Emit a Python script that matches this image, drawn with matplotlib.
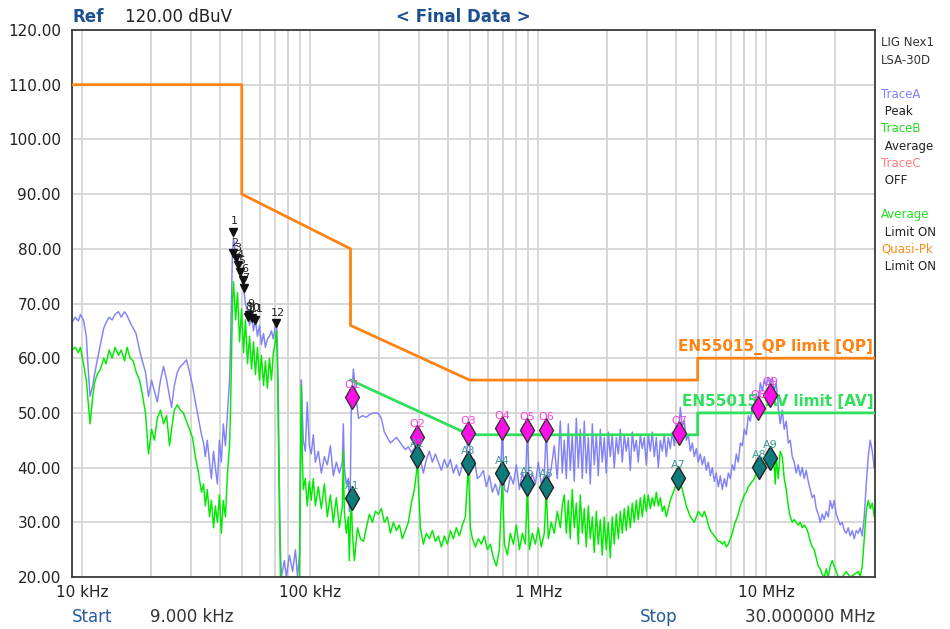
import matplotlib
matplotlib.use('Agg')
import matplotlib.pyplot as plt
from matplotlib.ticker import FixedLocator, NullFormatter

# --- data (frequency in kHz, level in dBuV) ---
peak_trace = [
    (9.0, 66.5), (9.3, 67.5), (9.6, 66.8), (9.8, 68), (10.1, 67), (10.4, 64), (10.6, 58), (10.8, 53),
    (11.1, 55), (11.3, 57), (11.6, 59.5), (12.0, 62.5), (12.4, 65.5), (12.7, 66.5), (13.1, 67.5),
    (13.5, 67), (13.9, 68), (14.4, 68.5), (14.8, 67.5), (15.3, 68.5), (15.7, 67.8), (16.2, 66.5),
    (16.7, 65.5), (17.2, 64.5), (17.8, 61.5), (18.3, 59.5), (18.9, 57.5), (19.5, 53), (20.1, 56),
    (20.7, 54), (21.3, 52), (22.0, 56), (22.7, 58.5), (23.4, 56), (24.1, 53), (24.6, 51), (25.3, 55),
    (26.1, 57.5), (26.9, 58.5), (27.7, 59), (28.6, 59.7), (29.5, 57.5), (30.4, 55), (31.3, 52),
    (32.3, 49), (33.3, 46), (34.0, 44.5), (34.6, 42), (35.3, 45), (36.1, 41), (36.8, 38), (37.6, 43),
    (38.3, 40), (39.1, 37), (39.9, 45), (40.7, 41), (41.5, 48), (42.4, 44), (43.3, 50), (44.2, 56),
    (44.6, 62), (45.1, 72), (45.5, 79), (46.0, 82), (47.0, 79), (47.9, 78.5), (48.9, 76), (49.9, 75),
    (50.9, 73), (51.9, 70), (53.0, 68.5), (54.1, 66), (55.2, 68), (56.3, 65), (57.4, 67), (58.6, 64),
    (59.8, 66), (61.0, 62.5), (62.3, 64.5), (63.5, 62), (64.8, 63.5), (66.1, 64), (67.5, 65),
    (68.8, 63.5), (70.2, 66), (71.0, 66.5), (71.7, 62), (72.4, 52), (73.1, 38), (73.9, 25), (74.6, 20),
    (76.9, 23), (78.5, 20), (80.9, 24), (83.6, 21), (86.0, 25), (87.8, 20), (89.6, 24), (90.4, 40),
    (91.3, 56), (92.2, 50), (93.1, 45), (95.0, 43), (96.9, 52), (98.9, 44), (100.9, 42.5), (103, 46),
    (105.2, 41), (108.4, 43), (111.7, 39), (115.2, 42), (118.7, 40.5), (122.4, 44), (126.1, 38.5),
    (130, 41), (134, 39), (138.1, 41), (139.5, 48), (140.9, 40), (143.8, 37), (146.7, 38), (148.2, 32),
    (149.8, 37), (151.3, 52), (154.4, 58), (157.6, 54), (162.5, 49), (169.1, 49.5), (176, 49.2),
    (183.3, 49.8), (190.8, 50), (198.7, 49.9), (204.8, 49), (211.1, 46.5), (217.6, 45.5), (224.4, 44.5),
    (231.3, 45), (238.4, 45.5), (245.8, 44.8), (253.3, 44), (261.1, 43.3), (269.2, 43.8), (277.4, 42.8),
    (286, 43.5), (294.8, 46), (303.8, 41.5), (313.2, 39), (322.8, 41.5), (332.7, 43), (343, 41),
    (353.5, 42.5), (364.4, 41), (375.6, 39.5), (387.2, 41.5), (399.1, 40), (411.3, 41.5), (424, 39),
    (437, 40.5), (450.5, 38.5), (464.3, 40.5), (478.6, 39.5), (493.4, 46.5), (508.6, 40), (524.2, 41.5),
    (540.3, 38), (557, 38.5), (574.1, 39.5), (591.8, 36.5), (610, 38.5), (628.8, 35.5), (648.1, 37),
    (668.1, 35), (681.7, 37), (695.6, 47.5), (709.8, 36), (731.6, 35.5), (754.2, 38.5), (777.4, 37),
    (801.3, 40.5), (826, 36), (851.4, 39), (877.6, 37), (895.4, 47), (913.6, 36.5), (941.8, 39),
    (970.8, 37), (1000, 41), (1031, 37), (1062, 38.5), (1084, 47), (1106, 37.5), (1140, 40), (1175, 44),
    (1211, 38), (1249, 48.5), (1274, 39), (1300, 45), (1327, 38), (1354, 48), (1381, 39.5), (1409, 46),
    (1438, 37.5), (1468, 49), (1498, 40), (1528, 47), (1560, 38), (1591, 48.5), (1624, 39), (1657, 45.5),
    (1691, 37), (1726, 48), (1760, 40.5), (1797, 46), (1833, 38.5), (1871, 47), (1908, 41), (1947, 45.5),
    (1987, 39), (2028, 46.5), (2069, 42), (2111, 46), (2154, 40), (2199, 45.5), (2244, 42.5), (2289, 47),
    (2336, 41), (2384, 46), (2432, 43), (2482, 45.5), (2533, 39.5), (2584, 46.5), (2637, 43), (2691, 45),
    (2746, 41), (2802, 46), (2860, 43.5), (2918, 45.5), (2977, 40.5), (3038, 46), (3100, 43), (3163, 46.5),
    (3228, 42), (3294, 45.5), (3361, 40), (3430, 45), (3500, 43), (3571, 46), (3644, 42), (3718, 45.5),
    (3794, 43.5), (3872, 46.5), (3951, 44), (4032, 48), (4113, 45.5), (4197, 51), (4283, 47.5),
    (4370, 48.5), (4460, 45), (4551, 46), (4644, 43), (4739, 44.5), (4836, 42), (4934, 43.5), (5035, 41),
    (5138, 42.5), (5242, 40.5), (5349, 42), (5459, 39.5), (5570, 41), (5684, 38.5), (5800, 40),
    (5918, 37.5), (6039, 39), (6162, 36.5), (6288, 38.5), (6416, 36), (6547, 38), (6681, 36.5),
    (6817, 39), (6956, 38), (7098, 40.5), (7243, 39.5), (7391, 42.5), (7542, 41), (7696, 44.5),
    (7853, 44), (8013, 47), (8177, 46), (8343, 49.5), (8514, 48.5), (8687, 51.5), (8865, 50.5),
    (9046, 53.5), (9231, 52), (9419, 55.5), (9611, 54), (9808, 56), (10000, 55), (10204, 56.5),
    (10412, 55), (10624, 56.5), (10841, 54), (11062, 55.5), (11288, 51), (11518, 48), (11753, 50.5),
    (11993, 47), (12238, 48.5), (12488, 44.5), (12743, 45), (13003, 42), (13268, 41), (13539, 39),
    (13815, 40.5), (14097, 38.5), (14385, 40), (14678, 38), (14978, 39.5), (15284, 37.5), (15596, 36),
    (15914, 34.5), (16239, 35), (16570, 32.5), (16908, 31.5), (17253, 30), (17605, 31.5), (17965, 30.5),
    (18331, 32), (18705, 31), (19087, 34), (19477, 32.5), (19874, 34), (20280, 31.5), (20694, 30.5),
    (21116, 29.5), (21547, 30), (21987, 28.5), (22436, 28), (22894, 29), (23361, 27.5), (23838, 28.5),
    (24325, 27), (24821, 28.5), (25328, 28), (25845, 29), (26373, 27.5), (26911, 31), (27461, 37),
    (28021, 42), (28593, 45), (29177, 43), (29773, 40), (30000, 41),
]

avg_trace = [
    (9.0, 61.5), (9.3, 62), (9.6, 61), (9.8, 62), (10.0, 60), (10.2, 58), (10.4, 56), (10.6, 52),
    (10.8, 48), (11.1, 53), (11.3, 55.5), (11.6, 57), (12.0, 58), (12.4, 60), (12.7, 59), (13.1, 61.5),
    (13.5, 60), (13.9, 62), (14.4, 60.5), (14.8, 61.5), (15.3, 59.5), (15.7, 62), (16.2, 60),
    (16.7, 59.5), (17.2, 57.5), (17.8, 56), (18.3, 53.5), (18.9, 50), (19.5, 42.5), (20.1, 47),
    (20.7, 45), (21.3, 49), (22.0, 50.5), (22.7, 48), (23.4, 49.5), (24.1, 44), (24.6, 47), (25.3, 50.5),
    (26.1, 51.5), (26.9, 50.5), (27.7, 50), (28.6, 48.5), (29.5, 47), (30.4, 45.5), (31.3, 42),
    (32.3, 39), (33.3, 35.5), (34.0, 37), (34.6, 33), (35.3, 36), (36.1, 31), (36.8, 34), (37.6, 29),
    (38.3, 33), (39.1, 30), (39.9, 35), (40.7, 28), (41.5, 34), (42.4, 31), (43.3, 39), (44.2, 44),
    (44.6, 50), (45.1, 60), (45.5, 70), (46.0, 74), (47.0, 67), (47.9, 72), (48.9, 63), (49.9, 69),
    (50.9, 61), (51.9, 67), (53.0, 59), (54.1, 64), (55.2, 58), (56.3, 63), (57.4, 57), (58.6, 62),
    (59.8, 56), (61.0, 60.5), (62.3, 55), (63.5, 59.5), (64.8, 54.5), (66.1, 60), (67.5, 56), (68.8, 61),
    (70.2, 63), (71.0, 65), (71.7, 58), (72.4, 45), (73.1, 32), (73.9, 20), (89.6, 20), (90.4, 38),
    (91.3, 55), (92.2, 42), (93.1, 36), (95.0, 38), (96.9, 33), (98.9, 37.5), (100.9, 34), (103, 38),
    (105.2, 33), (108.4, 36.5), (111.7, 32.5), (115.2, 37), (118.7, 31), (122.4, 35), (126.1, 30),
    (130, 34.5), (134, 29), (138.1, 33), (139.5, 43), (140.9, 32), (143.8, 28), (146.7, 31), (148.2, 23),
    (149.8, 30), (151.3, 34.5), (152.9, 28), (156, 23), (160.9, 29), (165.9, 27), (171.1, 26.5),
    (176, 29), (181.5, 31.5), (187.1, 30), (192.9, 32), (198.7, 31.5), (204.8, 32.5), (211.1, 30),
    (217.6, 31), (224.4, 28), (231.3, 30), (238.4, 28.5), (245.8, 29.5), (253.3, 27), (261.1, 28.5),
    (269.2, 30), (277.4, 33.5), (286, 36), (291.8, 39), (294.8, 42), (297.8, 37), (303.8, 29),
    (313.2, 26), (322.8, 28), (332.7, 27), (343, 28.5), (353.5, 26.5), (364.4, 27.5), (375.6, 25.5),
    (387.2, 27.5), (399.1, 26), (411.3, 28.5), (424, 27), (437, 29), (450.5, 27.5), (464.3, 29.5),
    (478.6, 31), (493.4, 40.5), (503.5, 29), (513.8, 27), (529.6, 25.5), (545.9, 27), (562.6, 26),
    (579.9, 27.5), (597.7, 25), (616.1, 26), (635.1, 23.5), (654.6, 22), (674.8, 25), (695.6, 38.5),
    (709.8, 26), (731.6, 24), (754.2, 28), (777.4, 26), (801.3, 29.5), (826, 25), (851.4, 28),
    (877.6, 26), (895.4, 36.5), (913.6, 25), (941.8, 28), (970.8, 26), (1000, 29), (1031, 25.5),
    (1062, 28), (1084, 36), (1106, 27), (1140, 30), (1175, 28), (1211, 32), (1249, 29), (1274, 33),
    (1300, 35), (1327, 28), (1354, 34), (1381, 27), (1409, 36), (1438, 29), (1468, 33.5), (1498, 26),
    (1528, 35), (1560, 28), (1591, 32.5), (1624, 25.5), (1657, 33), (1691, 27), (1726, 31), (1760, 24.5),
    (1797, 32), (1833, 26), (1871, 30.5), (1908, 24), (1947, 31), (1987, 25), (2028, 30), (2069, 23.5),
    (2111, 31), (2154, 26), (2199, 31.5), (2244, 27), (2289, 32), (2336, 28), (2384, 32.5), (2432, 28.5),
    (2482, 33), (2533, 29), (2584, 33.5), (2637, 30), (2691, 34), (2746, 30.5), (2802, 34.5), (2860, 31),
    (2918, 35), (2977, 32), (3038, 35), (3100, 32.5), (3163, 34.5), (3228, 33), (3294, 35.5), (3361, 33),
    (3430, 34.5), (3500, 32), (3571, 33), (3644, 31), (3718, 32.5), (3794, 34), (3872, 35), (3951, 36),
    (4032, 37), (4113, 38), (4197, 37.5), (4283, 36), (4370, 34.5), (4460, 33), (4551, 32), (4644, 31),
    (4739, 30.5), (4836, 30), (4934, 31), (5035, 32), (5138, 31.5), (5242, 31), (5349, 32), (5459, 31),
    (5570, 29.5), (5684, 28.5), (5800, 28), (5918, 27.5), (6039, 27), (6162, 26.5), (6288, 26.5),
    (6416, 26), (6547, 26.5), (6681, 25.5), (6817, 26), (6956, 27), (7098, 28), (7243, 29.5),
    (7391, 30.5), (7542, 31.5), (7696, 33), (7853, 34), (8013, 35), (8177, 35.5), (8343, 36.5),
    (8514, 37), (8687, 37.5), (8865, 38), (9046, 39), (9231, 39.5), (9419, 40), (9611, 40.5),
    (9808, 40.5), (10000, 41), (10204, 41), (10412, 41.5), (10624, 42), (10841, 40), (10950, 37),
    (11062, 42), (11288, 38), (11518, 43), (11753, 42), (11993, 38), (12238, 36), (12488, 33),
    (12743, 31), (13003, 30), (13268, 30.5), (13539, 30), (13815, 29.5), (14097, 30), (14385, 29),
    (14678, 29.5), (14978, 29), (15284, 28), (15596, 26.5), (15914, 25.5), (16239, 25), (16570, 23.5),
    (16908, 22), (17253, 21.5), (17605, 20.5), (17965, 20), (18331, 21.5), (18705, 20), (19087, 22),
    (19477, 23), (19874, 22), (20280, 21), (20694, 20), (21547, 20), (22436, 21), (23361, 20),
    (24325, 20.5), (25328, 21), (25845, 20), (26373, 22), (26911, 27), (27461, 32), (28021, 34),
    (28593, 32.5), (29177, 33.5), (29773, 31), (30000, 32),
]

qp_limit_khz = [9, 50, 50, 150, 150, 500, 5000, 5000, 30000]
qp_limit_db = [110, 110, 90, 80, 66, 56, 56, 60, 60]
av_limit_khz = [150, 500, 5000, 5000, 30000]
av_limit_db = [56, 46, 46, 50, 50]

peak_mark_khz = [45.9, 45.9, 47.4, 48.3, 49.3, 50.8, 51.3, 53.0, 54.0, 55.7, 57.4, 71.0]
peak_mark_db = [83.1, 79.2, 78.3, 77.0, 75.8, 74.3, 72.8, 67.5, 67.9, 67.3, 67.0, 66.4]

q_labels = ['Q1', 'Q2', 'Q3', 'Q4', 'Q5', 'Q6', 'Q7', 'Q8', 'Q9']
q_khz = [152, 294, 493, 695, 895, 1080, 4150, 9200, 10400]
q_db = [52.9, 45.6, 46.3, 47.2, 46.9, 46.9, 46.3, 50.9, 53.3]
a_labels = ['A1', 'A2', 'A3', 'A4', 'A5', 'A6', 'A7', 'A8', 'A9']
a_khz = [152, 294, 493, 695, 895, 1080, 4100, 9300, 10400]
a_db = [34.4, 42.1, 40.8, 39.0, 37.0, 36.5, 38.1, 40.1, 41.8]

x_ticks = [10, 100, 1000, 10000]
x_tick_labels = ['10 kHz', '100 kHz', '1 MHz', '10 MHz']
y_ticks = [20, 30, 40, 50, 60, 70, 80, 90, 100, 110, 120]

side_text = [('LIG Nex1', '#333333'), ('LSA-30D', '#333333'), ('', None),
             ('TraceA', '#8080ff'), (' Peak', '#222222'), ('TraceB', '#22dd22'),
             (' Average', '#222222'), ('TraceC', '#ff7f7f'), (' OFF', '#222222'), ('', None),
             ('Average', '#22dd22'), (' Limit ON', '#222222'), ('Quasi-Pk', '#ff8c1a'),
             (' Limit ON', '#222222')]

# --- figure ---
plt.rcParams['font.family'] = ['DejaVu Sans']
fig = plt.figure(figsize=(9.5, 6.29), dpi=100)
ax = fig.add_axes([72 / 950, 52 / 629, 803 / 950, 547 / 629])

blue = '#8282f8'
green = '#00ea00'

pf, pv = zip(*peak_trace)
af, av = zip(*avg_trace)
ax.plot(pf, pv, color=blue, lw=1.05, zorder=2)
ax.plot(af, av, color=green, lw=1.05, zorder=2.5)

ax.plot(qp_limit_khz, qp_limit_db, color='#ff8214', lw=2, zorder=3)
ax.plot(av_limit_khz, av_limit_db, color='#2ee05a', lw=2, zorder=3)

ax.text(29500, 60.6, 'EN55015_QP limit [QP]', color='#ff8214', fontsize=11,
        fontweight='bold', ha='right', va='bottom', zorder=4)
ax.text(29500, 50.6, 'EN55015_AV limit [AV]', color='#2ee05a', fontsize=11,
        fontweight='bold', ha='right', va='bottom', zorder=4)

# peak markers
ax.plot(peak_mark_khz, peak_mark_db, 'v', color='#111111', ms=5.5, zorder=5)
for i, (f, v) in enumerate(zip(peak_mark_khz, peak_mark_db)):
    ax.annotate(str(i + 1), (f, v), xytext=(1, 4), textcoords='offset points',
                ha='center', va='bottom', fontsize=8, color='#222222', zorder=5)

# Q / A markers
ax.plot(q_khz, q_db, 'd', ms=12, mfc='#ff10e6', mec='#333333', mew=1, zorder=6, ls='none')
ax.plot(a_khz, a_db, 'd', ms=12, mfc='#0f7c7c', mec='#222222', mew=1, zorder=6, ls='none')
for lab, f, v in zip(q_labels, q_khz, q_db):
    ax.annotate(lab, (f, v), xytext=(0, 9), textcoords='offset points', ha='center',
                va='center', fontsize=8, color='#ff3ee0', zorder=6)
for lab, f, v in zip(a_labels, a_khz, a_db):
    ax.annotate(lab, (f, v), xytext=(0, 9), textcoords='offset points', ha='center',
                va='center', fontsize=8, color='#3f9a9a', zorder=6)

ax.set_xscale('log')
ax.set_xlim(9, 30000)
ax.set_ylim(20, 120)
ax.xaxis.set_major_locator(FixedLocator(x_ticks))
ax.set_xticklabels(x_tick_labels)
minor = [m * 10 ** e for e in range(0, 5) for m in range(2, 10) if 9 <= m * 10 ** e <= 30000]
ax.xaxis.set_minor_locator(FixedLocator(minor))
ax.xaxis.set_minor_formatter(NullFormatter())
ax.set_yticks(y_ticks)
ax.set_yticklabels(['%.2f' % t for t in y_ticks])
ax.tick_params(axis='both', which='both', length=0, labelsize=11, colors='#222222')
ax.tick_params(axis='x', pad=6)
ax.tick_params(axis='y', pad=8)
ax.grid(True, which='both', color='#d4d4d4', lw=1.3, zorder=0)
ax.set_axisbelow(True)
for s in ax.spines.values():
    s.set_color('#3a3a3a')
    s.set_linewidth(1.3)

# header / footer texts
fig.text(72 / 950, 1 - 17 / 629, 'Ref', color='#1d4f91', fontsize=12, fontweight='bold', va='center')
fig.text(125 / 950, 1 - 17 / 629, '120.00 dBuV', color='#222222', fontsize=12, va='center')
fig.text(463 / 950, 1 - 17 / 629, '< Final Data >', color='#1d4f91', fontsize=12,
         fontweight='bold', va='center', ha='center')
fig.text(72 / 950, 1 - 617 / 629, 'Start', color='#2a5d9e', fontsize=12, va='center')
fig.text(150 / 950, 1 - 617 / 629, '9.000 kHz', color='#333333', fontsize=12, va='center')
fig.text(640 / 950, 1 - 617 / 629, 'Stop', color='#2a5d9e', fontsize=12, va='center')
fig.text(875 / 950, 1 - 617 / 629, '30.000000 MHz', color='#333333', fontsize=12,
         va='center', ha='right')

y0 = 43
for txt, col in side_text:
    if txt:
        fig.text(881 / 950, 1 - y0 / 629, txt, color=col, fontsize=8.5, va='center')
    y0 += 17.2

fig.savefig('out.png', dpi=100)
